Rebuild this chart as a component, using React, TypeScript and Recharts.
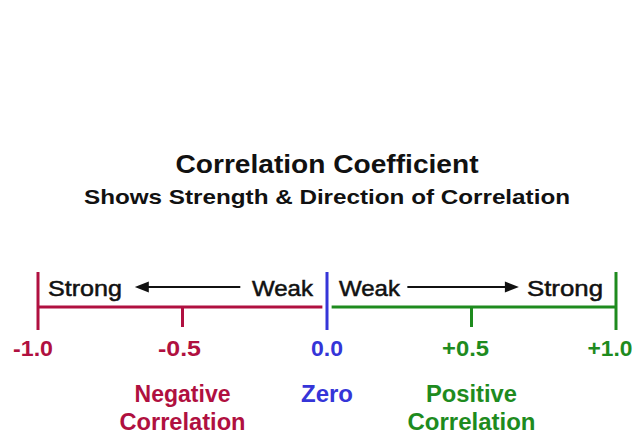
import { ComposedChart, XAxis, YAxis, ReferenceLine, ReferenceDot } from "recharts";

// values on the coefficient scale
const ticks = [-1, -0.5, 0, 0.5, 1];
const tickLabels = ["-1.0", "-0.5", "0.0", "+0.5", "+1.0"];
const groupAt = [-0.5, 0, 0.5];
const groupLabels = [["Negative", "Correlation"], ["Zero"], ["Positive", "Correlation"]];
const strongWeak = ["Strong", "Weak"];
// arrows: tail -> head, in coefficient units
const arrowSpans = [
  [-0.3, -0.665],
  [0.278, 0.664],
];
const title = "Correlation Coefficient";
const subtitle = "Shows Strength & Direction of Correlation";

const RED = "#B01040";
const BLUE = "#3535D8";
const GREEN = "#1E8B1E";
const INK = "#111111";
const FONT = "'Liberation Sans', Arial, Helvetica, sans-serif";
const colorOf = (v: number) => (v < 0 ? RED : v > 0 ? GREEN : BLUE);

// vertical layout (y axis is in pixels, top = 0)
const AXIS_Y = 307;
const MAJOR_TOP = 272;
const MAJOR_BOTTOM = 330;
const MINOR_BOTTOM = 327;
const WORD_Y = 296;
const ARROW_Y = 287;
const TICK_Y = 356;
const GROUP_Y = 402;
const LINE_GAP = 28;
const ZERO_GAP = 0.016; // half-axis lines stop short of the zero line

const tickWidths = [40, 43, 32, 47, 45];
const tickShift = [-5, -3, 0, -6, -6];
const groupWidths = [[96, 126], [52], [91, 128]];

function label(
  text: string,
  opts: { size: number; fill: string; anchor?: string; dx?: number; width?: number; light?: boolean }
) {
  return (p: any) => (
    <text
      x={p.cx + (opts.dx ?? 0)}
      y={p.cy}
      fill={opts.fill}
      stroke={opts.light ? opts.fill : undefined}
      strokeWidth={opts.light ? 0.5 : undefined}
      fontSize={opts.size}
      fontWeight={opts.light ? "normal" : "bold"}
      fontFamily={FONT}
      textAnchor={opts.anchor ?? "middle"}
      textLength={opts.width}
      lengthAdjust="spacingAndGlyphs"
    >
      {text}
    </text>
  );
}

function Arrow(p: any) {
  const { x1, y1, x2, y2 } = p;
  const dir = Math.sign(x2 - x1);
  const len = 14;
  const half = 5.5;
  return (
    <g>
      <line x1={x1} y1={y1} x2={x2 - dir * len * 0.5} y2={y2} stroke={INK} strokeWidth={2} />
      <polygon points={`${x2},${y2} ${x2 - dir * len},${y2 - half} ${x2 - dir * len},${y2 + half}`} fill={INK} />
    </g>
  );
}

export default function App() {
  const data = ticks.map((v) => ({ x: v }));
  return (
    <div style={{ position: "absolute", left: 0, top: 0, background: "#fff" }}>
      <ComposedChart width={636} height={436} data={data} margin={{ top: 0, right: 20, bottom: 0, left: 38 }}>
        <XAxis dataKey="x" type="number" domain={[-1, 1]} allowDataOverflow hide />
        <YAxis type="number" domain={[0, 436]} reversed allowDataOverflow hide />

        <ReferenceDot x={0} y={173} r={0} shape={label(title, { size: 26, fill: INK, width: 303 })} />
        <ReferenceDot x={0} y={204} r={0} shape={label(subtitle, { size: 21, fill: INK, width: 486 })} />

        <ReferenceLine segment={[{ x: -1, y: AXIS_Y }, { x: -ZERO_GAP, y: AXIS_Y }]} stroke={RED} strokeWidth={3} />
        <ReferenceLine segment={[{ x: ZERO_GAP, y: AXIS_Y }, { x: 1, y: AXIS_Y }]} stroke={GREEN} strokeWidth={3} />

        {ticks.map((v) => (
          <ReferenceLine
            key={"t" + v}
            segment={[
              { x: v, y: Math.abs(v) === 0.5 ? AXIS_Y : MAJOR_TOP },
              { x: v, y: Math.abs(v) === 0.5 ? MINOR_BOTTOM : MAJOR_BOTTOM },
            ]}
            stroke={colorOf(v)}
            strokeWidth={3}
          />
        ))}

        {ticks.map((v, i) => (
          <ReferenceDot
            key={"l" + v}
            x={v}
            y={TICK_Y}
            r={0}
            shape={label(tickLabels[i], { size: 22, fill: colorOf(v), width: tickWidths[i], dx: tickShift[i] })}
          />
        ))}

        {groupAt.map((v, i) =>
          groupLabels[i].map((line, j) => (
            <ReferenceDot
              key={"g" + i + j}
              x={v}
              y={GROUP_Y + j * LINE_GAP}
              r={0}
              shape={label(line, { size: 23, fill: colorOf(v), width: groupWidths[i][j] })}
            />
          ))
        )}

        <ReferenceDot x={-1} y={WORD_Y} r={0} shape={label(strongWeak[0], { size: 22, fill: INK, anchor: "start", dx: 10, width: 74, light: true })} />
        <ReferenceDot x={0} y={WORD_Y} r={0} shape={label(strongWeak[1], { size: 22, fill: INK, anchor: "end", dx: -14, width: 61, light: true })} />
        <ReferenceDot x={0} y={WORD_Y} r={0} shape={label(strongWeak[1], { size: 22, fill: INK, anchor: "start", dx: 12, width: 61, light: true })} />
        <ReferenceDot x={1} y={WORD_Y} r={0} shape={label(strongWeak[0], { size: 22, fill: INK, anchor: "end", dx: -13, width: 76, light: true })} />

        {arrowSpans.map(([a, b]) => (
          <ReferenceLine key={"a" + a} segment={[{ x: a, y: ARROW_Y }, { x: b, y: ARROW_Y }]} shape={Arrow} />
        ))}
      </ComposedChart>
    </div>
  );
}
